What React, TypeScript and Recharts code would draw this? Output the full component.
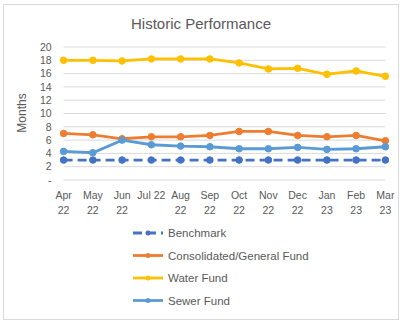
import React from 'react';
import {CartesianGrid, Line, LineChart, XAxis, YAxis} from 'recharts';

const months: string[] = ['Apr 22', 'May 22', 'Jun 22', 'Jul 22', 'Aug 22', 'Sep 22', 'Oct 22', 'Nov 22', 'Dec 22', 'Jan 23', 'Feb 23', 'Mar 23'];
// Excel wrapped every label except "Jul 22"
const monthTickLines: string[][] = [['Apr', '22'], ['May', '22'], ['Jun', '22'], ['Jul 22'], ['Aug', '22'], ['Sep', '22'], ['Oct', '22'], ['Nov', '22'], ['Dec', '22'], ['Jan', '23'], ['Feb', '23'], ['Mar', '23']];

const benchmark: number[] = [3, 3, 3, 3, 3, 3, 3, 3, 3, 3, 3, 3];
const consolidated: number[] = [7.0, 6.8, 6.2, 6.5, 6.5, 6.7, 7.3, 7.3, 6.7, 6.5, 6.7, 5.9];
const water: number[] = [18.0, 18.0, 17.9, 18.2, 18.2, 18.2, 17.6, 16.7, 16.8, 15.9, 16.4, 15.6];
const sewer: number[] = [4.3, 4.1, 6.0, 5.3, 5.1, 5.0, 4.7, 4.7, 4.9, 4.6, 4.7, 5.0];

const yTicks: number[] = [0, 2, 4, 6, 8, 10, 12, 14, 16, 18, 20];

const series = [
    {key: 'benchmark', name: 'Benchmark', color: '#4472C4', dash: '9 5'},
    {key: 'consolidated', name: 'Consolidated/General Fund', color: '#ED7D31', dash: undefined},
    {key: 'water', name: 'Water Fund', color: '#FFC000', dash: undefined},
    {key: 'sewer', name: 'Sewer Fund', color: '#5B9BD5', dash: undefined},
];

const data = months.map((month, i) => ({
    month,
    benchmark: benchmark[i],
    consolidated: consolidated[i],
    water: water[i],
    sewer: sewer[i],
}));

const FONT = '"Liberation Sans", Arial, sans-serif';
const TEXT = '#595959';

function MonthTick(props: any) {
    const {x, y, payload} = props;
    const lines = monthTickLines[months.indexOf(payload.value)] || [payload.value];
    return (
        <text x={x} y={y} textAnchor="middle" fill={TEXT} fontSize={10.5} fontFamily={FONT}>
            {lines.map((l, i) => (
                <tspan key={i} x={x} dy={i === 0 ? 17 : 14.5}>{l}</tspan>
            ))}
        </text>
    );
}

export default function App(): React.JSX.Element {
    return (
        <div style={{position: 'absolute', left: 0, top: 0, width: 403, height: 323, background: '#fff'}}>
            <div style={{position: 'absolute', left: 3, top: 4, width: 396, height: 316, border: '1px solid #d9d9d9', boxSizing: 'border-box'}}/>
            <div style={{position: 'absolute', left: 0, top: 0}}>
                <LineChart width={403} height={323} data={data} margin={{top: 47, right: 17.6, left: 0, bottom: 103}}>
                    <CartesianGrid vertical={false} stroke="#d9d9d9"/>
                    <XAxis dataKey="month" height={40} axisLine={false} tickLine={false} tickSize={0} interval={0} tick={<MonthTick/>}/>
                    <YAxis width={63.6} domain={[0, 20]} ticks={yTicks} interval={0} axisLine={false} tickLine={false} tickSize={0} tickMargin={12}
                           tickFormatter={(v: number) => (v === 0 ? '-' : String(v))}
                           tick={{fill: TEXT, fontSize: 10.5, fontFamily: FONT}}/>
                    {series.map(s => (
                        <Line key={s.key} dataKey={s.key} name={s.name} stroke={s.color} strokeWidth={2.8}
                              strokeDasharray={s.dash} isAnimationActive={false}
                              dot={{r: 3.3, fill: s.color, stroke: s.color, strokeWidth: 1, strokeDasharray: 'none'}}/>
                    ))}
                </LineChart>
            </div>
            <svg width={403} height={323} style={{position: 'absolute', left: 0, top: 0, pointerEvents: 'none'}}>
                <text x={201} y={29} textAnchor="middle" fill={TEXT} fontSize={15} fontFamily={FONT}>Historic Performance</text>
                <text x={26} y={113} textAnchor="middle" fill={TEXT} fontSize={12} fontFamily={FONT} transform="rotate(-90 26 113)">Months</text>
                {series.map((s, i) => {
                    const cy = 233 + i * 22.5;
                    return (
                        <g key={s.key}>
                            <line x1={133} x2={163} y1={cy} y2={cy} stroke={s.color} strokeWidth={2.8} strokeDasharray={s.dash}/>
                            <circle cx={148} cy={cy} r={2.5} fill={s.color}/>
                            <text x={168} y={cy + 4} fill={TEXT} fontSize={11.5} fontFamily={FONT}>{s.name}</text>
                        </g>
                    );
                })}
            </svg>
        </div>
    );
}
